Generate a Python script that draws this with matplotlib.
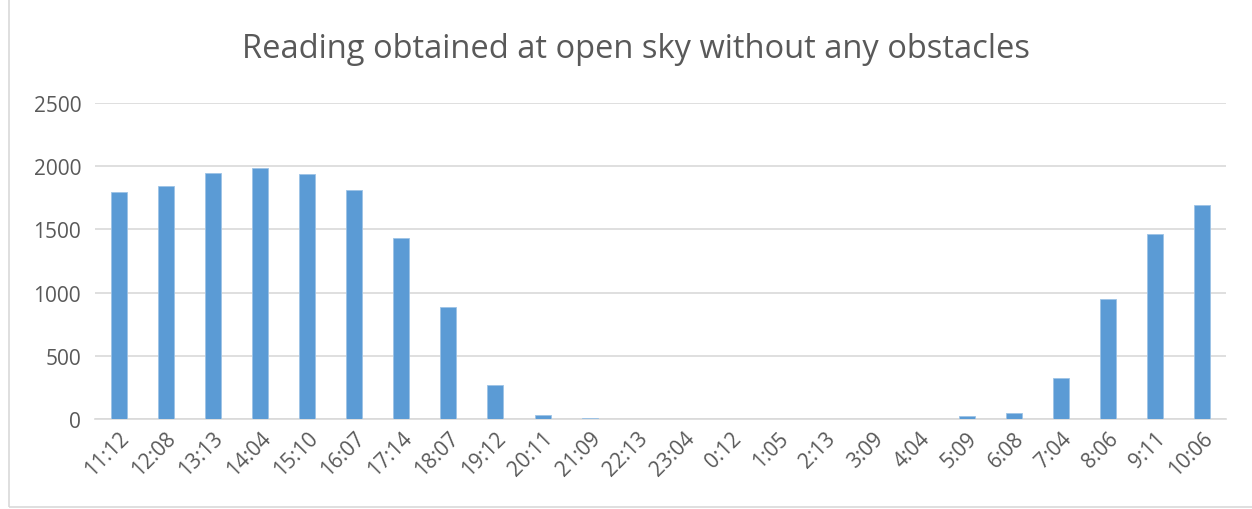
import matplotlib.pyplot as plt
import matplotlib.patches as patches
import numpy as np

times = ["11:12", "12:08", "13:13", "14:04", "15:10", "16:07", "17:14", "18:07",
         "19:12", "20:11", "21:09", "22:13", "23:04", "0:12", "1:05", "2:13",
         "3:09", "4:04", "5:09", "6:08", "7:04", "8:06", "9:11", "10:06"]
readings = [1800, 1845, 1950, 1985, 1935, 1810, 1430, 890,
            270, 35, 5, 0, 0, 0, 0, 0,
            0, 0, 25, 45, 325, 950, 1465, 1690]

plt.rcParams['font.family'] = ['Open Sans', 'DejaVu Sans']

fig = plt.figure(figsize=(12.52, 5.10), dpi=100)
ax = fig.add_axes([0.0759, 0.1765, 0.9031, 0.6195])

x = np.arange(len(times))
ax.bar(x, readings, width=0.34, color="#5B9BD5", edgecolor="#9DC3E6", linewidth=0.6, zorder=3)

ax.set_xlim(-0.5, len(times) - 0.5)
ax.set_ylim(0, 2500)
ax.set_yticks(np.arange(0, 2501, 500))
ax.yaxis.grid(True, color="#D9D9D9", linewidth=1.2, zorder=0)
ax.set_xticks(x)
ax.set_xticklabels(times, rotation=45, ha="right", rotation_mode="anchor")
ax.tick_params(axis="both", length=0, labelsize=15, colors="#595959")
ax.tick_params(axis="y", pad=10)
ax.tick_params(axis="x", pad=6)
for s in ["top", "right", "left"]:
    ax.spines[s].set_visible(False)
ax.spines["bottom"].set_color("#D9D9D9")
ax.spines["bottom"].set_linewidth(1.2)

fig.text(0.508, 0.902, "Reading obtained at open sky without any obstacles",
         ha="center", va="center", fontsize=23.5, color="#595959")

fig.patches.append(patches.Rectangle((0.007, 0.004), 1.0, 1.0, transform=fig.transFigure,
                                     fill=False, edgecolor="#D9D9D9", linewidth=1.2))

fig.savefig("out.png", dpi=100)
